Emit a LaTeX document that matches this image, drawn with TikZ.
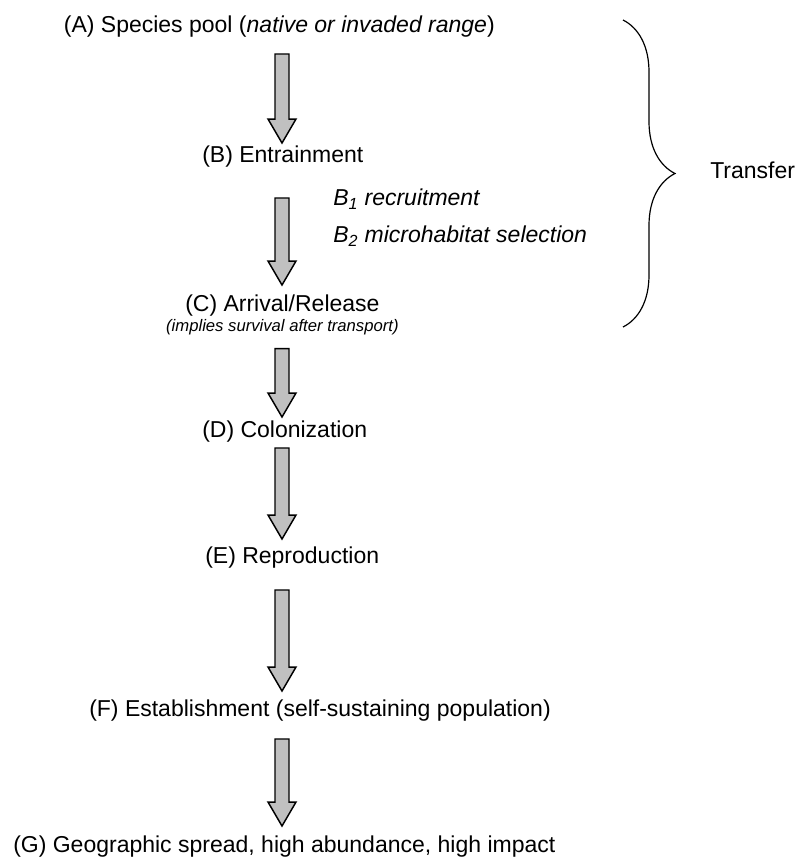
\documentclass[tikz,border=0pt]{standalone}
\usepackage{fontspec}
\setmainfont{Liberation Sans}
\usepackage{tikz}
\usetikzlibrary{calc, positioning, decorations.pathreplacing}
\definecolor{arrowgray}{RGB}{192,192,192}
\newcommand{\stagefont}{\fontsize{17.25}{20.7}\selectfont}
\newcommand{\notefont}{\fontsize{12.5}{15}\selectfont\itshape}
% block arrow from node #1 down to node #2, #3 = gap below #1, #4 = gap above #2
\newcommand{\stagearrow}[4]{%
  \draw[fill=arrowgray, draw=black, line width=1.1pt, line join=miter]
    ($(#1.south -| axis)+(-7,#3)$) -- ($(#2.north -| axis)+(-7,-24-#4)$)
    -- ++(-7,0) -- ($(#2.north -| axis)+(0,-#4)$) -- ++(14,-24) -- ++(-7,0)
    -- ($(#1.south -| axis)+(7,#3)$) -- cycle;}

\begin{document}
\begin{tikzpicture}[x=0.75pt, y=-0.75pt,
    stage/.style={font=\stagefont, inner sep=0pt},
    substage/.style={font=\stagefont\itshape, inner sep=0pt, anchor=west},
    note/.style={font=\notefont, inner sep=0pt}]
    \useasboundingbox (0,0) rectangle (800,861);
    \coordinate (axis) at (282,0);
    % stages
    \node[stage, anchor=east] (A) at (495,27) {(A) Species pool (\textit{native or invaded range})};
    \node[stage, anchor=west] (B) at (202,157) {(B) Entrainment};
    \node[substage] (rec) at (333,199) {B\textsubscript{1} recruitment};
    \node[substage] (mhs) at (333,236) {B\textsubscript{2} microhabitat selection};
    \node[stage, anchor=west] (C) at (185,306) {(C) Arrival/Release};
    \node[note, below=2pt of C] (Cnote) {(implies survival after transport)};
    \node[stage, anchor=west] (D) at (202,432) {(D) Colonization};
    \node[stage, anchor=west] (E) at (205,558) {(E) Reproduction};
    \node[stage, anchor=west] (F) at (89,711) {(F) Establishment (self-sustaining population)};
    \node[stage, anchor=west] (G) at (13,847) {(G) Geographic spread, high abundance, high impact};
    % arrows between stages
    \stagearrow{A}{B}{16}{3}
    \stagearrow{B}{C}{30}{10}
    \stagearrow{Cnote}{D}{13}{4}
    \stagearrow{D}{E}{5}{8}
    \stagearrow{E}{F}{21}{9}
    \stagearrow{F}{G}{17}{10}
    % transfer brace
    \coordinate (bracetop) at (623,20);
    \coordinate (bracebot) at (623,327);
    \draw[decorate, decoration={brace, amplitude=39pt}, line width=0.9pt] (bracetop) -- (bracebot);
    \node[stage, anchor=west] (transfer) at (710,170) {Transfer};
\end{tikzpicture}
\end{document}
